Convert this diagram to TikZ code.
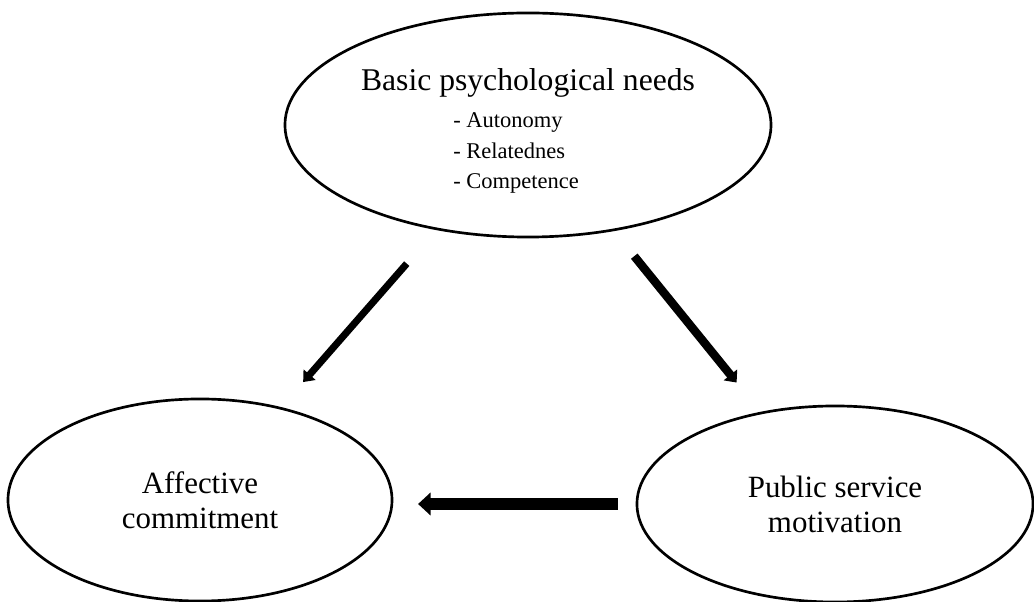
\documentclass[tikz,border=0pt]{standalone}
\usepackage{fontspec}
\setmainfont{Liberation Serif}
\usetikzlibrary{shapes.geometric,arrows.meta,positioning}

\begin{document}
\begin{tikzpicture}[x=0.025cm, y=-0.025cm, line width=1.9pt,
    oval/.style={draw, ellipse, inner sep=0pt, outer sep=0pt, align=center, font=\fontsize{22}{25}\selectfont},
    item/.style={inner sep=0pt, font=\fontsize{16}{19}\selectfont}]
    \useasboundingbox (0,0) rectangle (1034,602);

    % Nodes
    \node (needs) [oval, minimum width=12.15cm, minimum height=5.6cm] at (528,125) {};
    \node (needstitle) [anchor=base, inner sep=0pt, font=\fontsize{22.5}{27}\selectfont] at (528,91) {Basic psychological needs};
    \node (autonomy) [item, anchor=base west] at (452,128) {- Autonomy};
    \node (relatedness) [item, below=0.75cm of autonomy.base west, anchor=base west] {- Relatednes};
    \node (competence) [item, below=0.77cm of relatedness.base west, anchor=base west] {- Competence};
    \node (commitment) [oval, minimum width=9.6cm, minimum height=5.05cm] at (200,500) {Affective\\commitment};
    \node (motivation) [oval, minimum width=9.9cm, minimum height=4.9cm] at (835,504) {Public service\\motivation};

    % Arrows
    \draw[-{Triangle[length=7pt, width=11pt]}, line width=5pt, shorten <=32.8pt, shorten >=24.7pt] (needs) -- (commitment);
    \draw[-{Triangle[length=7pt, width=12pt]}, line width=6pt, shorten <=24pt, shorten >=27.9pt] (needs) -- (motivation);
    \draw[-{Triangle[length=9pt, width=16pt]}, line width=8.5pt, shorten <=13.5pt, shorten >=18.5pt] (motivation.west) -- (motivation.west -| commitment.east);
\end{tikzpicture}
\end{document}
